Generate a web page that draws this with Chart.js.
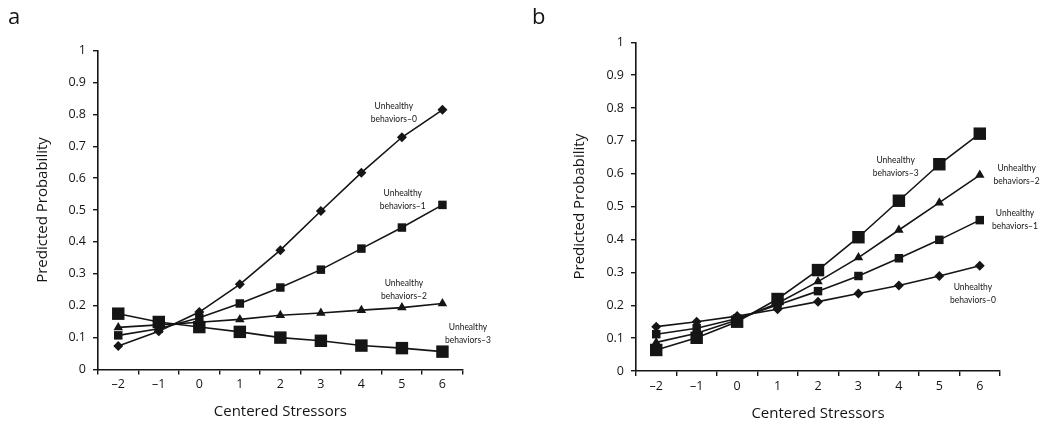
<!DOCTYPE html>
<html><head><meta charset="utf-8">
<script src="https://cdn.jsdelivr.net/npm/chart.js@4/dist/chart.umd.min.js"></script>
<style>
html,body{margin:0;padding:0;background:#fff}
body{width:1050px;height:428px;overflow:hidden;position:relative;font-family:'Open Sans',sans-serif}
.panel{position:absolute;top:0;width:525px;height:428px}
.letter{position:absolute;font-size:22px;line-height:22px;color:#151515;font-family:'Open Sans',sans-serif}
</style></head><body>
<div class="panel" style="left:0"><canvas id="ca" width="525" height="428"></canvas></div>
<div class="panel" style="left:525px"><canvas id="cb" width="525" height="428"></canvas></div>
<div class="letter" style="left:8px;top:3.5px">a</div>
<div class="letter" style="left:532px;top:3.5px">b</div>
<script>
// ---- data ----
const stressors = [-2, -1, 0, 1, 2, 3, 4, 5, 6];
const stressorLabels = stressors.map(v => v < 0 ? '\u2013' + Math.abs(v) : String(v));
const seriesNames = ['Unhealthy behaviors\u20130', 'Unhealthy behaviors\u20131', 'Unhealthy behaviors\u20132', 'Unhealthy behaviors\u20133'];
const yTicks = [0, 0.1, 0.2, 0.3, 0.4, 0.5, 0.6, 0.7, 0.8, 0.9, 1];

// panel a
const aUB0 = [0.074, 0.120, 0.180, 0.267, 0.374, 0.497, 0.617, 0.728, 0.814];
const aUB1 = [0.107, 0.128, 0.162, 0.207, 0.257, 0.313, 0.379, 0.445, 0.516];
const aUB2 = [0.132, 0.140, 0.148, 0.157, 0.170, 0.177, 0.186, 0.194, 0.207];
const aUB3 = [0.175, 0.149, 0.133, 0.118, 0.100, 0.090, 0.075, 0.067, 0.056];
// panel b
const bUB0 = [0.135, 0.150, 0.167, 0.188, 0.211, 0.236, 0.260, 0.289, 0.320];
const bUB1 = [0.112, 0.130, 0.160, 0.201, 0.243, 0.289, 0.343, 0.399, 0.459];
const bUB2 = [0.087, 0.115, 0.155, 0.206, 0.272, 0.345, 0.429, 0.512, 0.596];
const bUB3 = [0.064, 0.101, 0.150, 0.219, 0.307, 0.407, 0.518, 0.629, 0.722];

// label anchors (stressor value, probability) for the series notes
const aNotePos = [[4.80, 0.807], [5.02, 0.535], [5.05, 0.251], [6.63, 0.112]];
const bNotePos = [[5.83, 0.236], [6.87, 0.461], [6.91, 0.598], [3.92, 0.622]];

// ---- styling ----
const INK = '#151515';
const TXT = '#151515';
const FONT = "'Open Sans', sans-serif";
const NOTE_FONT = "Lato, 'Open Sans', sans-serif";
const NOTE_SIZE = 10;
const NOTE_WIDTH = 46; // width of the "behaviors–N" line in the reference
const styles = ['rectRot', 'rect', 'triangle', 'rect'];
const radii = [5, 6, 5.5, 8.8];

function notesPlugin(pos) {
  return {
    id: 'notes',
    afterDraw(chart) {
      const {ctx, scales: {x, y}} = chart;
      ctx.save();
      ctx.font = NOTE_SIZE + 'px ' + NOTE_FONT;
      const sx = Math.min(1, NOTE_WIDTH / ctx.measureText('behaviors\u20130').width);
      ctx.fillStyle = TXT;
      ctx.textAlign = 'center';
      ctx.textBaseline = 'middle';
      pos.forEach((p, i) => {
        const px = x.getPixelForValue(p[0] - stressors[0]);
        const py = y.getPixelForValue(p[1]);
        const parts = seriesNames[i].split(' ');
        ctx.save();
        ctx.translate(px, py);
        ctx.scale(sx, 1);
        ctx.fillText(parts[0], 0, -6.5);
        ctx.fillText(parts[1], 0, 6.5);
        ctx.restore();
      });
      ctx.restore();
    }
  };
}

function makeChart(id, series, notes, g) {
  return new Chart(document.getElementById(id), {
    type: 'line',
    data: {
      labels: stressorLabels,
      datasets: series.map((s, i) => ({
        label: seriesNames[i],
        data: s,
        borderColor: INK,
        backgroundColor: INK,
        pointBackgroundColor: INK,
        pointBorderColor: INK,
        pointBorderWidth: 0,
        borderWidth: 1.6,
        pointStyle: styles[i],
        pointRadius: radii[i],
        pointHoverRadius: radii[i],
        tension: 0,
        clip: false
      }))
    },
    options: {
      responsive: false,
      animation: false,
      events: [],
      layout: {padding: {left: g.padL, right: g.padR, top: g.padT, bottom: 0}},
      plugins: {legend: {display: false}, tooltip: {enabled: false}, title: {display: false}},
      scales: {
        x: {
          type: 'category',
          offset: true,
          grid: {offset: true, drawOnChartArea: false, tickLength: 5, color: INK, lineWidth: 1.4},
          border: {display: true, color: INK, width: 1.6},
          ticks: {color: TXT, font: {family: FONT, size: 12.5}, padding: 2.5, autoSkip: false, maxRotation: 0},
          title: {display: true, text: 'Centered Stressors', color: TXT, font: {family: FONT, size: 15}, padding: {top: 0, bottom: g.xTitlePad}},
          afterFit: s => { s.height = g.xH; }
        },
        y: {
          type: 'linear',
          min: 0, max: 1,
          afterBuildTicks: s => { s.ticks = yTicks.map(v => ({value: v})); },
          ticks: {color: TXT, font: {family: FONT, size: 12.5}, padding: 7, callback: v => String(Math.round(v * 10) / 10)},
          grid: {drawOnChartArea: false, tickLength: 5, color: INK, lineWidth: 1.4},
          border: {display: true, color: INK, width: 1.6},
          title: {display: true, text: 'Predicted Probability', color: TXT, font: {family: FONT, size: 15}, padding: {top: g.yTitlePad, bottom: 0}},
          afterFit: s => { s.width = 70; }
        }
      }
    },
    plugins: [notesPlugin(notes)]
  });
}

makeChart('ca', [aUB0, aUB1, aUB2, aUB3], aNotePos, {padL: 28, padR: 62.3, padT: 50.5, xH: 58.5, xTitlePad: 7, yTitlePad: 6});
makeChart('cb', [bUB0, bUB1, bUB2, bUB3], bNotePos, {padL: 41, padR: 50, padT: 42.3, xH: 57, xTitlePad: 5.7, yTitlePad: 4.3});
</script>
</body></html>
